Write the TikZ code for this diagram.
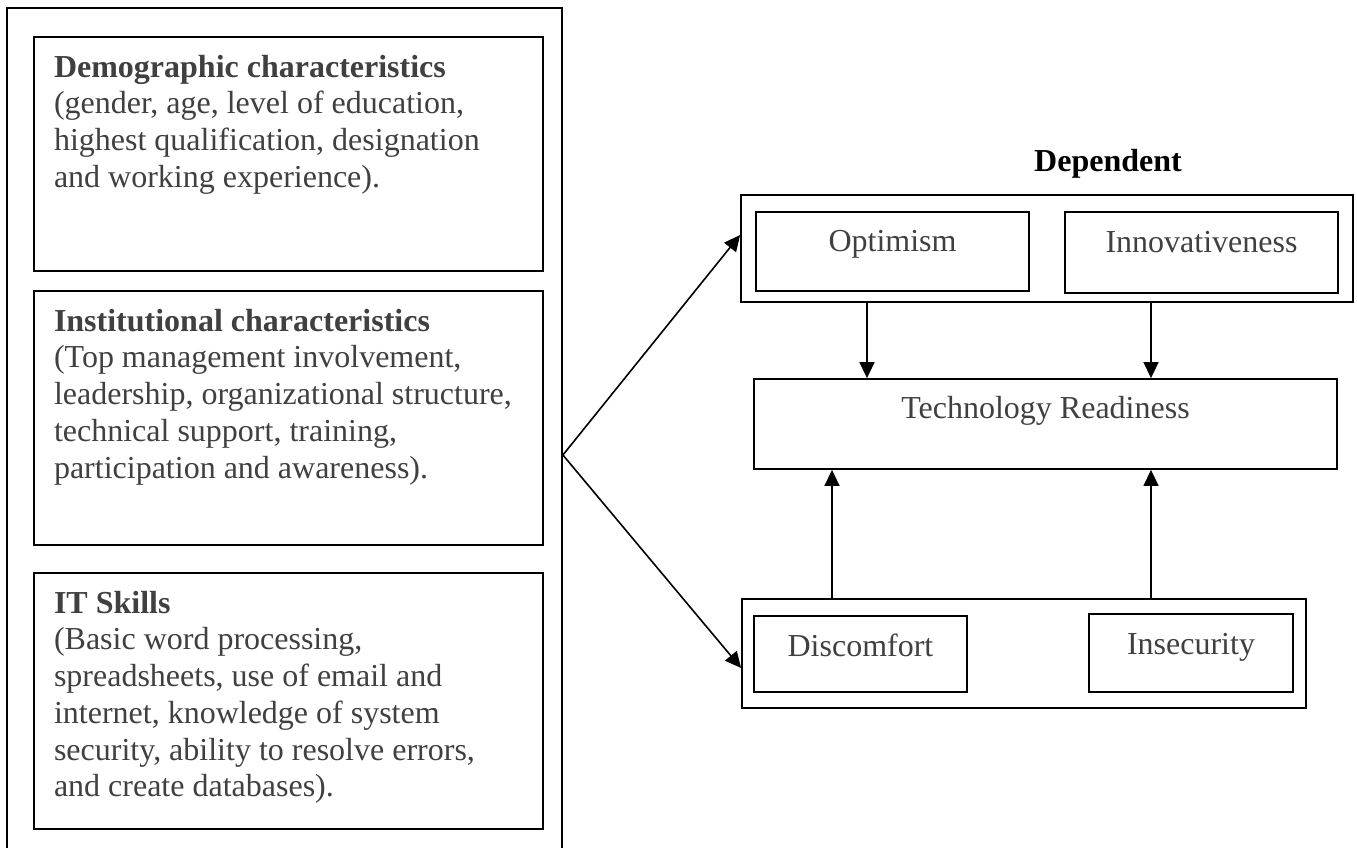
\documentclass[tikz,border=0pt]{standalone}
\usepackage{fontspec}
\setmainfont{Liberation Serif}
\usetikzlibrary{arrows.meta}
\definecolor{txtgray}{RGB}{64,64,64}
\begin{document}
\begin{tikzpicture}[x=1pt, y=-1pt, line width=1.8pt,
  box/.style={draw, rectangle, inner sep=0pt},
  txt/.style={text=txtgray, inner sep=0pt, font=\fontsize{32}{36.7}\selectfont},
  arr/.style={line width=1.6pt, -{Triangle[length=16pt,width=15pt]}}]
  \useasboundingbox (0,0) rectangle (1357,847);
  \node[box, minimum width=555, minimum height=894] (indep) at (284.5,455) {};
  \node[box, minimum width=509, minimum height=234] (demo) at (288.5,154) {};
  \node[box, minimum width=509, minimum height=254] (inst) at (288.5,418) {};
  \node[box, minimum width=509, minimum height=256] (skill) at (288.5,701) {};
  \node[txt, anchor=north west, align=left] (demoT) at ([shift={(20pt,-18pt)}]demo.north west)
    {\textbf{Demographic characteristics}\\(gender, age, level of education,\\highest qualification, designation\\and working experience).};
  \node[txt, anchor=north west, align=left] (instT) at ([shift={(20pt,-18pt)}]inst.north west)
    {\textbf{Institutional characteristics}\\(Top management involvement,\\leadership, organizational structure,\\technical support, training,\\participation and awareness).};
  \node[txt, anchor=north west, align=left] (skillT) at ([shift={(20pt,-18pt)}]skill.north west)
    {\textbf{IT Skills}\\(Basic word processing,\\spreadsheets, use of email and\\internet, knowledge of system\\security, ability to resolve errors,\\and create databases).};
  \node[txt, text=black, anchor=base, font=\fontsize{32}{36.7}\selectfont\bfseries] (dep) at (1108,171) {Dependent};
  \node[box, minimum width=612, minimum height=107] (topgrp) at (1047,248.5) {};
  \node[box, minimum width=273, minimum height=79] (opt) at (892.5,251.5) {};
  \node[box, minimum width=273, minimum height=81] (inn) at (1201.5,252.5) {};
  \node[box, minimum width=583, minimum height=90] (tr) at (1045.5,424) {};
  \node[box, minimum width=564, minimum height=109] (botgrp) at (1024,653.5) {};
  \node[box, minimum width=213, minimum height=76] (dis) at (860.5,654) {};
  \node[box, minimum width=204, minimum height=78] (ins) at (1191,653) {};
  \node[txt, anchor=base] (optT) at (opt.center) {Optimism};
  \node[txt, anchor=base] (innT) at (inn.center) {Innovativeness};
  \node[txt, anchor=base] (trT) at ([yshift=6pt]tr.center) {Technology Readiness};
  \node[txt, anchor=base] (disT) at ([yshift=-2pt]dis.center) {Discomfort};
  \node[txt, anchor=base] (insT) at ([yshift=-1pt]ins.center) {Insecurity};
  \coordinate (colA) at (867,0);
  \coordinate (colB) at (1151,0);
  \coordinate (colC) at (832,0);
  \draw[arr] (indep.east) -- ([yshift=13.5pt]topgrp.west);
  \draw[arr] (indep.east) -- ([yshift=-14.5pt]botgrp.west);
  \draw[arr] (topgrp.south -| colA) -- (tr.north -| colA);
  \draw[arr] (topgrp.south -| colB) -- (tr.north -| colB);
  \draw[arr] (botgrp.north -| colC) -- (tr.south -| colC);
  \draw[arr] (botgrp.north -| colB) -- (tr.south -| colB);
\end{tikzpicture}
\end{document}
